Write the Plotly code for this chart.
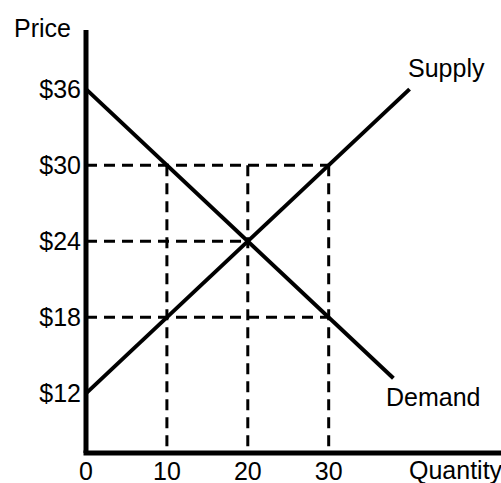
import plotly.graph_objects as go

# Data
demand_q = [0, 38]
demand_p = [36, 13.2]
supply_q = [0, 40]
supply_p = [12, 36]

price_ticks = [12, 18, 24, 30, 36]
price_labels = ["$12", "$18", "$24", "$30", "$36"]
qty_ticks = [0, 10, 20, 30]
qty_labels = ["0", "10", "20", "30"]

# Guide lines (dashed): horizontal price levels and vertical quantity levels
h_prices = [30, 24, 18]
h_qty_end = [30, 20, 30]
v_qty = [10, 20, 30]
v_price_top = [30, 30, 30]

FONT = "Liberation Sans, Arial, sans-serif"
W, H = 501, 483
L, R, T, B = 86, 0, 30, 30
X_MAX = 51.3
Y_MIN, Y_MAX = 7.30, 40.66

fig = go.Figure()

for p, q in zip(h_prices, h_qty_end):
    fig.add_trace(go.Scatter(x=[0, q], y=[p, p], mode="lines",
                             line=dict(color="black", width=3, dash="11px,7px"),
                             showlegend=False, hoverinfo="skip"))
for q, p in zip(v_qty, v_price_top):
    fig.add_trace(go.Scatter(x=[q, q], y=[p, Y_MIN], mode="lines",
                             line=dict(color="black", width=3, dash="11px,7px"),
                             showlegend=False, hoverinfo="skip"))

fig.add_trace(go.Scatter(x=demand_q, y=demand_p, mode="lines", name="Demand",
                         line=dict(color="black", width=4), showlegend=False))
fig.add_trace(go.Scatter(x=supply_q, y=supply_p, mode="lines", name="Supply",
                         line=dict(color="black", width=4), showlegend=False))

# Axis lines
fig.add_shape(type="line", xref="x domain", yref="y domain", x0=0, x1=0, y0=0, y1=1,
              line=dict(color="black", width=5))
fig.add_shape(type="line", xref="paper", yref="y domain", x0=-2.5 / (W - L - R), x1=1, y0=0, y1=0,
              line=dict(color="black", width=5))

fig.update_xaxes(range=[0, X_MAX], showgrid=False, zeroline=False, showline=False,
                 tickvals=qty_ticks, ticktext=qty_labels, ticks="",
                 ticklabelstandoff=1, automargin=False,
                 tickfont=dict(size=25, color="black", family=FONT))
fig.update_yaxes(range=[Y_MIN, Y_MAX], showgrid=False, zeroline=False, showline=False,
                 tickvals=price_ticks, ticktext=price_labels, ticks="",
                 ticklabelstandoff=4, automargin=False,
                 tickfont=dict(size=25, color="black", family=FONT))

# Text labels positioned in page pixels (converted to paper coords)
annos = [
    ("Price", 12, 28),
    ("Quantity", 407, 470),
    ("Supply", 406, 68),
    ("Demand", 384, 397),
]
pw, ph = W - L - R, H - T - B
for text, px, py in annos:
    fig.add_annotation(text=text, xref="paper", yref="paper",
                       x=(px - L) / pw, y=(H - B - py) / ph, xanchor="left",
                       yanchor="middle", showarrow=False,
                       font=dict(size=25, color="black", family=FONT))

fig.update_layout(width=W, height=H, paper_bgcolor="white", plot_bgcolor="white",
                  margin=dict(l=L, r=R, t=T, b=B), font=dict(family=FONT))

fig.write_html("out.html", config={"displayModeBar": False},
               post_script="document.body.style.margin='0';")
